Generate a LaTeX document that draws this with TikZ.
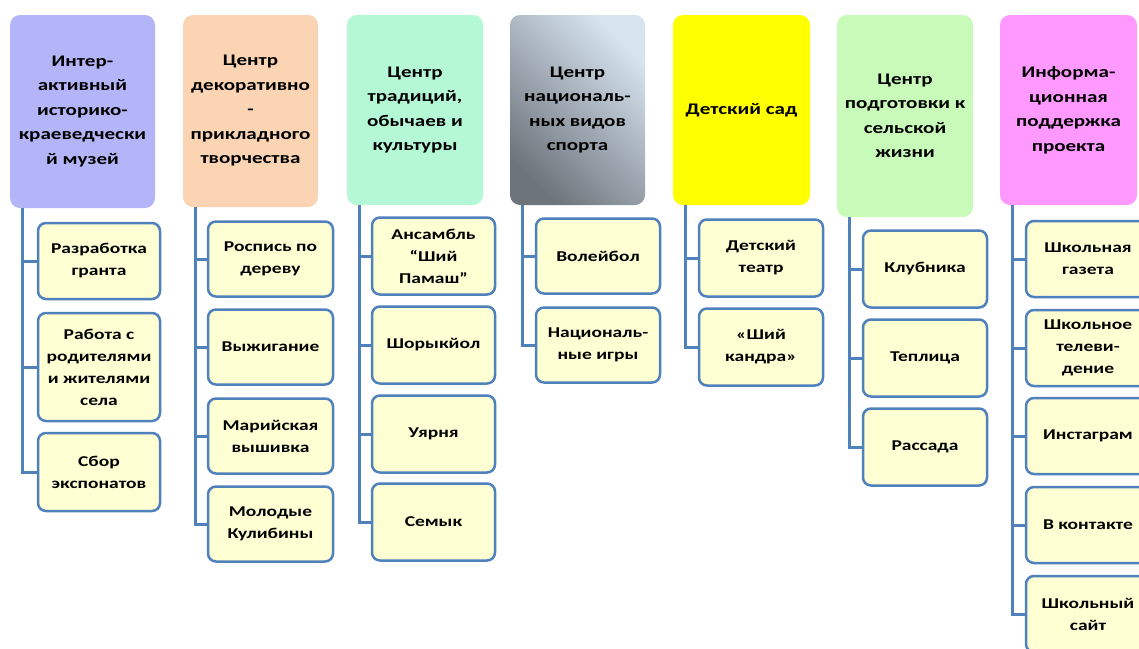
\documentclass[tikz,border=0pt]{standalone}
\usepackage{fontspec}
\setmainfont{Carlito}[FakeStretch=1.3]
\definecolor{hpurple}{RGB}{180,180,248}
\definecolor{hpeach}{RGB}{251,212,180}
\definecolor{hmint}{RGB}{180,248,214}
\definecolor{hyellow}{RGB}{255,255,0}
\definecolor{hgreen}{RGB}{200,250,185}
\definecolor{hpink}{RGB}{255,153,255}
\definecolor{graylight}{RGB}{215,228,240}
\definecolor{graydark}{RGB}{110,116,124}
\definecolor{cfill}{RGB}{255,255,212}
\definecolor{cline}{RGB}{79,129,189}
\tikzset{
  head/.style={rectangle, rounded corners=10, inner sep=0, align=center,
    font=\bfseries\fontsize{16.2}{24.5}\selectfont, minimum width=136, minimum height=190},
  child/.style={rectangle, rounded corners=8, draw=cline, line width=2.5pt, fill=cfill,
    inner sep=0, align=center, font=\bfseries\fontsize{15}{22}\selectfont,
    minimum width=122, minimum height=75},
  spine/.style={draw=cline, line width=3pt},
}
\begin{document}
\begin{tikzpicture}[x=1pt,y=-1pt]
\clip (0,0) rectangle (1139,648);
\fill[white] (0,0) rectangle (1139,648);
% headers
\node[head, fill=hpurple, minimum width=145, minimum height=193] (h1) at (82.5,111.5) {Интер-\\активный\\историко-\\краеведчески\\й музей};
\node[head, fill=hpeach, minimum width=135, minimum height=192] (h2) at (250.5,111) {Центр\\декоративно\\-\\прикладного\\творчества};
\node[head, fill=hmint] (h3) at (415,110) {Центр\\традиций,\\обычаев и\\культуры};
\node[head, top color=graylight, bottom color=graydark, shading angle=-45, minimum width=135] (h4) at (577.5,110) {Центр\\националь-\\ных видов\\спорта};
\node[head, fill=hyellow, minimum width=137] (h5) at (741.5,110) {Детский сад};
\node[head, fill=hgreen, minimum height=202] (h6) at (905,116) {Центр\\подготовки к\\сельской\\жизни};
\node[head, fill=hpink, minimum width=137] (h7) at (1068.5,110) {Информа-\\ционная\\поддержка\\проекта};
% column 1
\node[child, minimum height=76] (c11) at (99,261) {Разработка\\гранта};
\node[child, minimum height=108] (c12) at (99,367) {Работа с\\родителями\\и жителями\\села};
\node[child, minimum height=78] (c13) at (99,472) {Сбор\\экспонатов};
% column 2
\node[child, minimum width=125] (c21) at (270.5,259) {Роспись по\\дереву};
\node[child, minimum width=125] (c22) at (270.5,347) {Выжигание};
\node[child, minimum width=125] (c23) at (270.5,436) {Марийская\\вышивка};
\node[child, minimum width=125] (c24) at (270.5,524) {Молодые\\Кулибины};
% column 3
\node[child, minimum width=123, minimum height=77] (c31) at (433.5,256) {Ансамбль\\“Ший\\Памаш”};
\node[child, minimum width=123, minimum height=77] (c32) at (433.5,345) {Шорыкйол};
\node[child, minimum width=123, minimum height=77] (c33) at (433.5,434) {Уярня};
\node[child, minimum width=123, minimum height=77] (c34) at (433.5,522) {Семык};
% column 4
\node[child, minimum width=124] (c41) at (598,256) {Волейбол};
\node[child, minimum width=124] (c42) at (598,345) {Националь-\\ные игры};
% column 5
\node[child, minimum width=124, minimum height=77] (c51) at (761,258) {Детский\\театр};
\node[child, minimum width=124, minimum height=77] (c52) at (761,347) {«Ший\\кандра»};
% column 6
\node[child, minimum width=124, minimum height=77] (c61) at (925,269) {Клубника};
\node[child, minimum width=124, minimum height=77] (c62) at (925,358) {Теплица};
\node[child, minimum width=124, minimum height=77] (c63) at (925,447) {Рассада};
% column 7
\node[child, minimum width=124, minimum height=76] (c71) at (1088,259) {Школьная\\газета};
\node[child, minimum width=124, minimum height=76] (c72) at (1088,348) {Школьное\\телеви-\\дение};
\node[child, minimum width=124, minimum height=76] (c73) at (1088,436) {Инстаграм};
\node[child, minimum width=124, minimum height=76] (c74) at (1088,525) {В контакте};
\node[child, minimum width=124, minimum height=76] (c75) at (1088,614) {Школьный\\сайт};
% connectors
\foreach \h/\list in {h1/{c11,c12,c13}, h2/{c21,c22,c23,c24}, h3/{c31,c32,c33,c34},
  h4/{c41,c42}, h5/{c51,c52}, h6/{c61,c62,c63}, h7/{c71,c72,c73,c74,c75}}{
  \foreach \c in \list {
    \draw[spine] ([xshift=12.5]\h.south west) |- (\c.west);
  }
}
\end{tikzpicture}
\end{document}
